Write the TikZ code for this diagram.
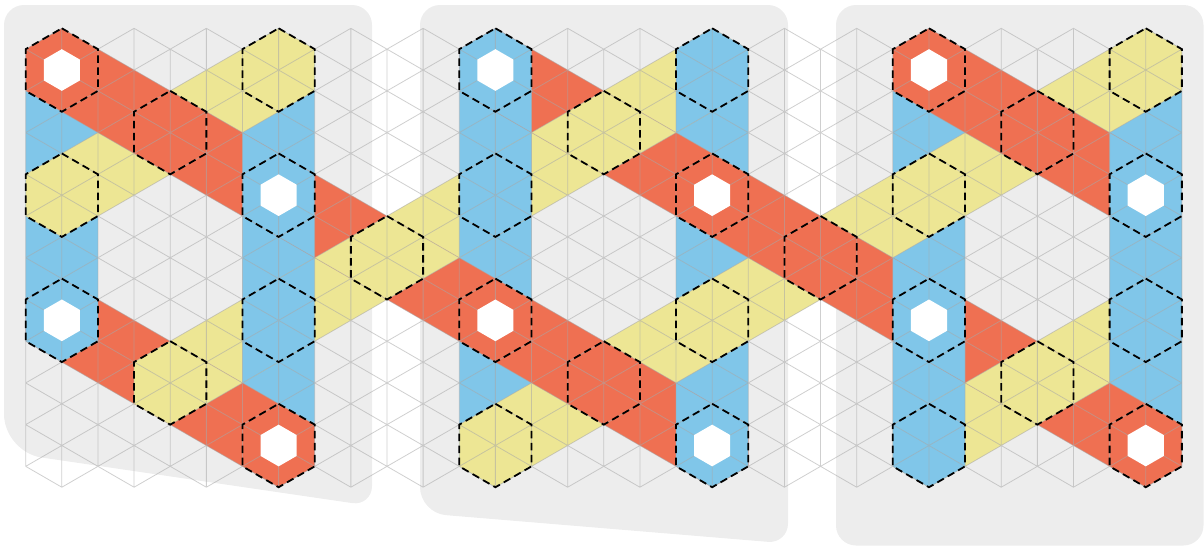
\documentclass[tikz,border=0pt]{standalone}
\definecolor{cRed}{HTML}{EF7052}
\definecolor{cBlue}{HTML}{80C6E9}
\definecolor{cYel}{HTML}{EDE694}
\definecolor{cPanel}{HTML}{EDEDED}
\definecolor{cGrid}{HTML}{A8A8A8}
% hexagon (circumradius = one triangle side) centred on lattice point
\newcommand\HexP[2]{({#1},{#2-2}) -- ({#1+1},{#2-1}) -- ({#1+1},{#2+1}) -- ({#1},{#2+2}) -- ({#1-1},{#2+1}) -- ({#1-1},{#2-1}) -- cycle}
\newcommand\InHexP[2]{({#1},{#2-1}) -- ({#1+0.5},{#2-0.5}) -- ({#1+0.5},{#2+0.5}) -- ({#1},{#2+1}) -- ({#1-0.5},{#2+0.5}) -- ({#1-0.5},{#2-0.5}) -- cycle}
% strips: hull of the two end hexagons
\newcommand\BHull[3]{({#1},{#2-2}) -- ({#1+1},{#2-1}) -- ({#1+1},{#3+1}) -- ({#1},{#3+2}) -- ({#1-1},{#3+1}) -- ({#1-1},{#2-1}) -- cycle}
\newcommand\RHull[4]{({#1-1},{#2-1}) -- ({#1},{#2-2}) -- ({#3+1},{#4-1}) -- ({#3+1},{#4+1}) -- ({#3},{#4+2}) -- ({#1-1},{#2+1}) -- cycle}
\newcommand\YHull[4]{({#1-1},{#2+1}) -- ({#1-1},{#2-1}) -- ({#3},{#4-2}) -- ({#3+1},{#4-1}) -- ({#3+1},{#4+1}) -- ({#1},{#2+2}) -- cycle}
\newcommand\sBa{\BHull{1}{2}{14}}
\newcommand\sBb{\BHull{7}{2}{20}}
\newcommand\sBc{\BHull{13}{2}{20}}
\newcommand\sBd{\BHull{19}{2}{20}}
\newcommand\sBe{\BHull{25}{2}{20}}
\newcommand\sBf{\BHull{31}{2}{20}}
\newcommand\sRa{\RHull{1}{2}{19}{20}}
\newcommand\sRb{\RHull{13}{2}{31}{20}}
\newcommand\sRc{\RHull{1}{14}{7}{20}}
\newcommand\sRd{\RHull{25}{2}{31}{8}}
\newcommand\sYa{\YHull{1}{8}{7}{2}}
\newcommand\sYb{\YHull{4}{17}{19}{2}}
\newcommand\sYc{\YHull{13}{20}{31}{2}}
\newcommand\sYd{\YHull{25}{20}{31}{14}}
\newcommand\OnTop[3]{\begin{scope}\clip #1;\fill[#3] #2;\end{scope}}
\tikzset{
  panel/.style={fill=cPanel},
  gridl/.style={draw=cGrid, line width=0.8pt, opacity=0.55},
  dashhex/.style={draw=black, line width=1.8pt, dash pattern=on 7.5pt off 4.5pt},
  holehex/.style={fill=white}
}
\begin{document}
\begin{tikzpicture}
\useasboundingbox (0pt,0pt) rectangle (1204pt,-546pt);
% background panels
\fill[panel] (188pt,-5pt) [rounded corners=20pt] -- (372pt,-5pt) -- (372pt,-506pt) [rounded corners=38pt] -- (4pt,-452pt) [rounded corners=20pt] -- (4pt,-5pt) -- cycle;
\fill[panel] (604pt,-5pt) [rounded corners=20pt] -- (788pt,-5pt) -- (788pt,-543.5pt) [rounded corners=26pt] -- (420pt,-513pt) [rounded corners=20pt] -- (420pt,-5pt) -- cycle;
\fill[panel, rounded corners=20pt] (836pt,-5pt) rectangle (1203.5pt,-545.5pt);
\begin{scope}[shift={(25.7pt,-28.3pt)}, x={(36.13pt,0pt)}, y={(0pt,-20.86pt)}]
  % strips
  \fill[cBlue] \sBa; \fill[cBlue] \sBb; \fill[cBlue] \sBc;
  \fill[cBlue] \sBd; \fill[cBlue] \sBe; \fill[cBlue] \sBf;
  \fill[cYel] \sYa; \fill[cYel] \sYb; \fill[cYel] \sYc; \fill[cYel] \sYd;
  \fill[cRed] \sRa; \fill[cRed] \sRb; \fill[cRed] \sRc; \fill[cRed] \sRd;
  % crossings where the lower strip of the default order lies on top
  \OnTop{\sRa}{\sBb}{cBlue}
  \OnTop{\sRa}{\sBd}{cBlue}
  \OnTop{\sRb}{\sBc}{cBlue}
  \OnTop{\sRb}{\sBe}{cBlue}
  \OnTop{\sRc}{\sBa}{cBlue}
  \OnTop{\sRd}{\sBf}{cBlue}
  \OnTop{\sRa}{\sYb}{cYel}
  \OnTop{\sRb}{\sYb}{cYel}
  \OnTop{\sRb}{\sYd}{cYel}
  \OnTop{\sRc}{\sYb}{cYel}
  \OnTop{\sYb}{\sBb}{cBlue}
  \OnTop{\sYb}{\sBc}{cBlue}
  \OnTop{\sYb}{\sBd}{cBlue}
  \OnTop{\sYd}{\sBe}{cBlue}
  \OnTop{\sYd}{\sBf}{cBlue}
  % triangular grid
  \path[gridl]
    \foreach \i in {1,3,...,31} {(\i,0) -- (\i,22)}
    \foreach \i in {0,2,...,32} {(\i,1) -- (\i,21)}
    \foreach \i in {1,3,...,31} {\foreach \j in {0,2,...,20} {(\i,\j) -- ++(1,1)}}
    \foreach \i in {1,3,...,31} {\foreach \j in {2,4,...,22} {(\i,\j) -- ++(1,-1)}}
    \foreach \i in {0,2,...,30} {\foreach \j in {1,3,...,21} {(\i,\j) -- ++(1,1) (\i,\j) -- ++(1,-1)}};
  % white inner hexagons
  \foreach \c/\r in {1/2,7/8,1/14,7/20,13/2,13/14,19/8,19/20,25/2,31/8,25/14,31/20}
    {\fill[holehex] \InHexP{\c}{\r};}
  % dashed hexagons
  \foreach \c/\r in {1/2,4/5,7/8,10/11,13/14,16/17,19/20,13/2,16/5,19/8,22/11,25/14,28/17,31/20,1/14,4/17,7/20,25/2,28/5,31/8,1/8,7/2,7/14,13/8,19/2,13/20,19/14,25/8,31/2,25/20,31/14}
    {\path[dashhex] \HexP{\c}{\r};}
\end{scope}
\end{tikzpicture}
\end{document}
